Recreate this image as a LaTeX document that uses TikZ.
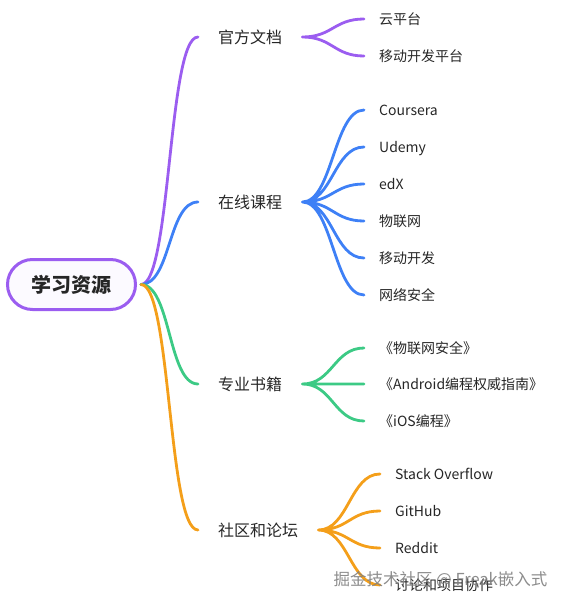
\documentclass[tikz,border=0pt]{standalone}
\usepackage{fontspec}
\setmainfont{Noto Sans CJK SC}
\usepackage{tikz}

\definecolor{mmpurple}{RGB}{155,93,240}
\definecolor{mmblue}{RGB}{62,128,246}
\definecolor{mmgreen}{RGB}{60,202,133}
\definecolor{mmorange}{RGB}{244,159,26}

\begin{document}
\begin{tikzpicture}[x=1pt,y=-1pt,
        every node/.style={text=black!85,text depth=0pt},
        root/.style={draw=mmpurple,fill=mmpurple!3,line width=3pt,rounded corners=25pt,
            minimum width=128pt,minimum height=50pt,text height=15pt,
            font=\fontsize{20pt}{24pt}\selectfont\bfseries},
        topic/.style={anchor=west,inner xsep=20pt,text height=12pt,
            font=\fontsize{16pt}{19pt}\selectfont},
        leaf/.style={anchor=west,inner xsep=15pt,text height=10.5pt,
            font=\fontsize{14pt}{17pt}\selectfont},
        br/.style={line width=2.8pt,line cap=round,
            to path={.. controls +(30pt,0) and +(-30pt,0) .. (\tikztotarget)}}]
        \useasboundingbox (0,0) rectangle (565,605);
        \node[root] (xxzy) at (71.5,284.5) {学习资源};
        \node[topic] (gfwd) at (198,37)  {官方文档};
        \node[topic] (zxkc) at (198,202) {在线课程};
        \node[topic] (zysj) at (198,384) {专业书籍};
        \node[topic] (sqlt) at (198,530) {社区和论坛};
        \node[leaf] (ypt)  at (364,19)  {云平台};
        \node[leaf] (ydpt) at (364,56)  {移动开发平台};
        \node[leaf] (crs)  at (364,110) {Coursera};
        \node[leaf] (udm)  at (364,147) {Udemy};
        \node[leaf] (edx)  at (364,184) {edX};
        \node[leaf] (wlw)  at (364,221) {物联网};
        \node[leaf] (ydkf) at (364,258) {移动开发};
        \node[leaf] (wlaq) at (364,295) {网络安全};
        \node[leaf] (sj1)  at (364,348) {《物联网安全》};
        \node[leaf] (sj2)  at (364,384) {《Android编程权威指南》};
        \node[leaf] (sj3)  at (364,421) {《iOS编程》};
        \node[leaf] (so)   at (380,474) {Stack Overflow};
        \node[leaf] (gh)   at (380,511) {GitHub};
        \node[leaf] (rd)   at (380,548) {Reddit};
        \node[leaf] (tl)   at (380,585) {讨论和项目协作};
        \draw[br,mmpurple] ([xshift=4pt]xxzy.east) to (gfwd.west)
            (gfwd.east) to (ypt.west)
            (gfwd.east) to (ydpt.west);
        \draw[br,mmblue] ([xshift=4pt]xxzy.east) to (zxkc.west)
            (zxkc.east) to (crs.west)  (zxkc.east) to (udm.west)
            (zxkc.east) to (edx.west)  (zxkc.east) to (wlw.west)
            (zxkc.east) to (ydkf.west) (zxkc.east) to (wlaq.west);
        \draw[br,mmgreen] ([xshift=4pt]xxzy.east) to (zysj.west)
            (zysj.east) to (sj1.west) (zysj.east) to (sj2.west)
            (zysj.east) to (sj3.west);
        \draw[br,mmorange] ([xshift=4pt]xxzy.east) to (sqlt.west)
            (sqlt.east) to (so.west) (sqlt.east) to (gh.west)
            (sqlt.east) to (rd.west) (sqlt.east) to (tl.west);
        \node[anchor=west,text=black!50,opacity=0.9,text height=12pt,
            font=\fontsize{16.5pt}{19pt}\selectfont]
            (wm) at (330,579) {掘金技术社区 @ Freak嵌入式};
    \end{tikzpicture}
\end{document}
